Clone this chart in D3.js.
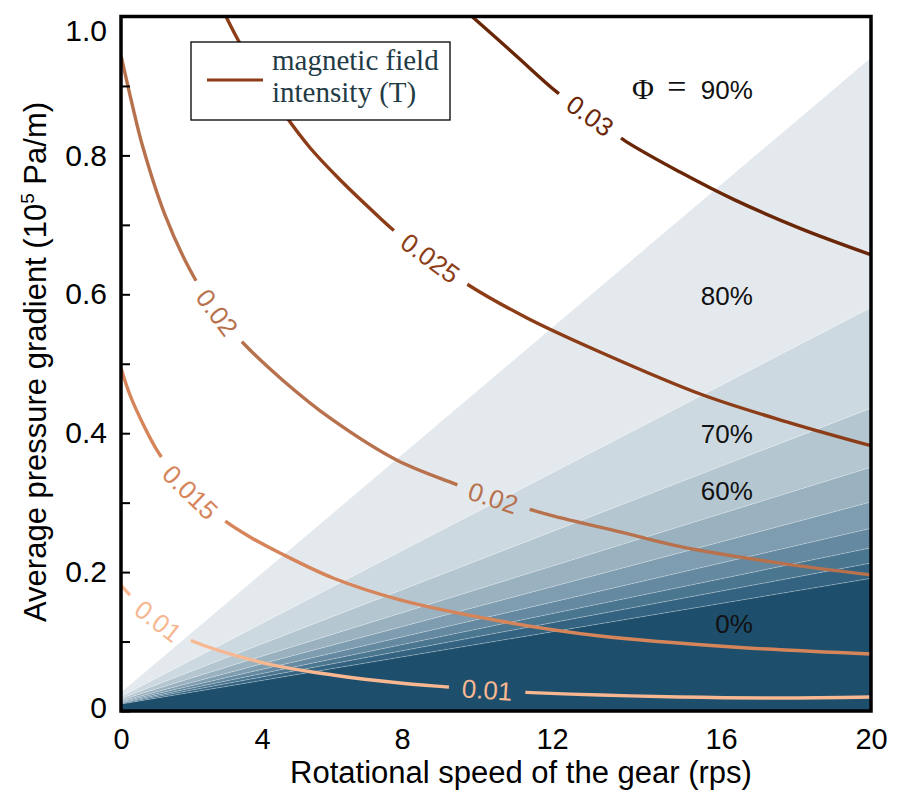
<!DOCTYPE html>
<html><head><meta charset="utf-8">
<script src="https://cdn.jsdelivr.net/npm/d3@7"></script>
<style>body{margin:0;background:#fff}svg{display:block}</style>
</head><body><svg id="chart" width="924" height="807"></svg>
<script>
// ---------------- data ----------------
const xTicks = [0, 4, 8, 12, 16, 20];
const yTicks = [0, 0.1, 0.2, 0.3, 0.4, 0.5, 0.6, 0.7, 0.8, 0.9, 1.0];
const yTickLabels = ["0", "", "0.2", "", "0.4", "", "0.6", "", "0.8", "", "1.0"];

// volume fraction regions (Φ), boundaries are straight lines from x=0 to x=20
const phiLevels = ["0%", "10%", "20%", "30%", "40%", "50%", "60%", "70%", "80%", "90%"];
const boundaryAtX0  = [0.010, 0.011, 0.012, 0.013, 0.014, 0.016, 0.018, 0.021, 0.027];
const boundaryAtX20 = [0.191, 0.213, 0.235, 0.263, 0.301, 0.351, 0.436, 0.581, 0.941];
const phiColors = ["#1d4e6c", "#336380", "#4b7690", "#6489a0", "#7e9db0",
                   "#9ab1bf", "#b4c6d0", "#cdd9e0", "#e4e9ee", "#ffffff"];

// Φ annotations
const phiAnnotText = ["90%", "80%", "70%", "60%", "0%"];
const phiAnnotX = [16.85, 16.85, 16.85, 16.85, 16.85];
const phiAnnotY = [0.881, 0.584, 0.386, 0.304, 0.112];

// magnetic field intensity contours (T)
const field010X = [0, 0.48, 1.11, 1.82, 3.94, 6.03, 7.94, 9.23, 10.27, 11.09, 13.14, 15.01, 17.57, 20];
const field010Y = [0.181, 0.155, 0.127, 0.105, 0.0705, 0.0518, 0.0403, 0.0345, 0.0302, 0.0273, 0.023, 0.0201, 0.0187, 0.0201];
const field015X = [0, 0.255, 0.681, 1.050, 1.532, 1.957, 2.525, 2.950, 3.660, 4.514, 6.029, 7.943, 10.613, 13.136, 16.32, 20];
const field015Y = [0.494, 0.455, 0.4075, 0.373, 0.340, 0.315, 0.291, 0.2736, 0.2505, 0.2275, 0.1915, 0.160, 0.1296, 0.108, 0.0922, 0.0821];
const field020X = [0, 0.31, 0.62, 1.25, 1.96, 2.67, 3.52, 4.60, 5.94, 7.86, 9.41, 10.35, 11.95, 13.61, 15.10, 17.57, 20];
const field020Y = [0.944, 0.875, 0.812, 0.714, 0.635, 0.577, 0.527, 0.476, 0.422, 0.361, 0.327, 0.308, 0.282, 0.258, 0.236, 0.213, 0.196];
const field025X = [2.979, 3.291, 3.943, 4.657, 5.371, 6.229, 7.371, 7.743, 8.747, 9.813, 11.333, 13.136, 15.574, 17.84, 20];
const field025Y = [1.0, 0.969, 0.911, 0.858, 0.811, 0.765, 0.710, 0.693, 0.652, 0.612, 0.566, 0.517, 0.455, 0.415, 0.382];
const field030X = [9.867, 11.013, 12.118, 12.899, 13.728, 15.030, 16.32, 18.107, 20];
const field030Y = [1.0, 0.945, 0.891, 0.857, 0.821, 0.776, 0.737, 0.695, 0.657];

const fieldLevelText = ["0.01", "0.015", "0.02", "0.025", "0.03"];
const fieldColors = ["#f6b791", "#d6845a", "#b8714d", "#8c3d17", "#6a2708"];
const fieldLabelAtX = [[1.05, 10.27], [1.96], [2.72, 10.43], [8.75], [12.90]];

// ---------------- chart ----------------
const svg = d3.select("#chart");
const x = d3.scaleLinear().domain(xTicks).range([121, 262, 402, 552, 721, 871]);
const y = d3.scaleLinear().domain([0, 1]).range([711, 16.5]);

svg.append("defs").append("clipPath").attr("id", "plotclip")
  .append("rect").attr("x", x(0)).attr("y", y(1))
  .attr("width", x(20) - x(0)).attr("height", y(0) - y(1));

const plot = svg.append("g").attr("clip-path", "url(#plotclip)");

// regions
const poly = d3.line().x(d => x(d[0])).y(d => y(d[1]));
phiLevels.forEach((lv, i) => {
  const lo0 = i === 0 ? 0 : boundaryAtX0[i - 1];
  const lo20 = i === 0 ? 0 : boundaryAtX20[i - 1];
  const hi0 = i === phiLevels.length - 1 ? 1 : boundaryAtX0[i];
  const hi20 = i === phiLevels.length - 1 ? 1 : boundaryAtX20[i];
  plot.append("path")
    .attr("d", poly([[0, lo0], [20, lo20], [20, hi20], [0, hi0]]) + "Z")
    .attr("fill", phiColors[i]);
});
boundaryAtX0.forEach((b, i) => {
  plot.append("path")
    .attr("d", poly([[0, b], [20, boundaryAtX20[i]]]))
    .attr("stroke", "#ffffff").attr("stroke-opacity", 0.35)
    .attr("stroke-width", 0.8).attr("fill", "none");
});

// contours
const fieldX = [field010X, field015X, field020X, field025X, field030X];
const fieldY = [field010Y, field015Y, field020Y, field025Y, field030Y];
const curveGen = d3.line().x(d => x(d[0])).y(d => y(d[1])).curve(d3.curveCatmullRom.alpha(0.5));

fieldLevelText.forEach((lvl, k) => {
  const pts = fieldX[k].map((v, j) => [v, fieldY[k][j]]);
  const path = plot.append("path")
    .attr("d", curveGen(pts))
    .attr("fill", "none")
    .attr("stroke", fieldColors[k])
    .attr("stroke-width", 3.4)
    .attr("stroke-linecap", "butt");
  const node = path.node();
  const L = node.getTotalLength();
  const gaps = [];
  fieldLabelAtX[k].forEach(lx => {
    const target = x(lx);
    let lo = 0, hi = L;
    for (let it = 0; it < 40; it++) {
      const mid = (lo + hi) / 2;
      if (node.getPointAtLength(mid).x < target) lo = mid; else hi = mid;
    }
    const s = (lo + hi) / 2;
    const p = node.getPointAtLength(s);
    const p1 = node.getPointAtLength(Math.max(0, s - 3));
    const p2 = node.getPointAtLength(Math.min(L, s + 3));
    let ang = Math.atan2(p2.y - p1.y, p2.x - p1.x) * 180 / Math.PI;
    if (ang > 90) ang -= 180;
    if (ang < -90) ang += 180;
    const t = plot.append("text")
      .attr("transform", `translate(${p.x},${p.y}) rotate(${ang})`)
      .attr("text-anchor", "middle")
      .attr("dominant-baseline", "central")
      .attr("font-family", "'Liberation Sans', Arial, sans-serif")
      .attr("font-size", 26)
      .attr("fill", fieldColors[k])
      .text(lvl);
    const w = t.node().getComputedTextLength();
    gaps.push([s - w / 2 - 13, s + w / 2 + 13]);
  });
  gaps.sort((a, b) => a[0] - b[0]);
  const dash = [];
  let pos = 0;
  gaps.forEach(g => { dash.push(Math.max(0, g[0] - pos)); dash.push(g[1] - g[0]); pos = g[1]; });
  dash.push(Math.max(0, L - pos)); dash.push(L + 10);
  path.attr("stroke-dasharray", dash.join(","));
});

// Φ annotations
phiAnnotText.forEach((t, i) => {
  svg.append("text")
    .attr("x", x(phiAnnotX[i])).attr("y", y(phiAnnotY[i]))
    .attr("text-anchor", "end")
    .attr("font-family", "'Liberation Sans', Arial, sans-serif")
    .attr("font-size", 26).attr("fill", "#111")
    .text(t);
  if (i === 0) {
    svg.append("text").attr("x", x(phiAnnotX[i]) - 121).attr("y", y(phiAnnotY[i]))
      .attr("font-family", "'Liberation Serif', 'Times New Roman', serif")
      .attr("font-size", 30).attr("fill", "#111").text("Φ");
    svg.append("text").attr("x", x(phiAnnotX[i]) - 76).attr("y", y(phiAnnotY[i]) - 1)
      .attr("text-anchor", "middle")
      .attr("font-family", "'Liberation Serif', 'Times New Roman', serif")
      .attr("font-size", 34).attr("fill", "#111").text("=");
  }
});

// frame
svg.append("rect")
  .attr("x", x(0)).attr("y", y(1))
  .attr("width", x(20) - x(0)).attr("height", y(0) - y(1))
  .attr("fill", "none").attr("stroke", "#000").attr("stroke-width", 3.5);

// y axis
const yAxis = svg.append("g").attr("transform", `translate(${x(0)},0)`)
  .call(d3.axisLeft(y).tickValues(yTicks).tickSize(-9).tickPadding(14)
    .tickFormat((d, i) => yTickLabels[i]));
yAxis.select(".domain").remove();
yAxis.selectAll(".tick line").attr("stroke", "#000").attr("stroke-width", 2);
yAxis.selectAll(".tick text")
  .attr("font-family", "'Liberation Sans', Arial, sans-serif")
  .attr("font-size", 30).attr("fill", "#000")
  .attr("dy", (d) => d === 1 ? "0.8em" : (d === 0 ? "0.2em" : "0.32em"));

// x axis
const xAxis = svg.append("g").attr("transform", `translate(0,${y(0)})`)
  .call(d3.axisBottom(x).tickValues(xTicks).tickSize(0).tickPadding(17).tickFormat(d3.format("d")));
xAxis.select(".domain").remove();
xAxis.selectAll(".tick text")
  .attr("font-family", "'Liberation Sans', Arial, sans-serif")
  .attr("font-size", 29).attr("fill", "#000");

// axis titles
svg.append("text")
  .attr("x", 521).attr("y", 783)
  .attr("text-anchor", "middle")
  .attr("font-family", "'Liberation Sans', Arial, sans-serif")
  .attr("font-size", 31).attr("fill", "#000")
  .text("Rotational speed of the gear (rps)");

const yt = svg.append("text")
  .attr("transform", "translate(46,362) rotate(-90)")
  .attr("text-anchor", "middle")
  .attr("font-family", "'Liberation Sans', Arial, sans-serif")
  .attr("font-size", 31).attr("fill", "#000");
yt.append("tspan").text("Average pressure gradient (10");
yt.append("tspan").attr("font-size", 19).attr("dy", -12).text("5");
yt.append("tspan").attr("dy", 12).text(" Pa/m)");

// legend
const lg = svg.append("g");
lg.append("rect").attr("x", 191).attr("y", 42).attr("width", 259).attr("height", 78)
  .attr("fill", "#fff").attr("stroke", "#000").attr("stroke-width", 1.3);
lg.append("line").attr("x1", 207).attr("x2", 263).attr("y1", 80).attr("y2", 80)
  .attr("stroke", "#8c3d17").attr("stroke-width", 3);
lg.append("text").attr("x", 272).attr("y", 70)
  .attr("font-family", "'Liberation Serif', 'Times New Roman', serif")
  .attr("font-size", 29).attr("fill", "#1f3b45").text("magnetic field");
lg.append("text").attr("x", 272).attr("y", 102)
  .attr("font-family", "'Liberation Serif', 'Times New Roman', serif")
  .attr("font-size", 29).attr("fill", "#1f3b45").text("intensity (T)");
</script>
</body></html>
